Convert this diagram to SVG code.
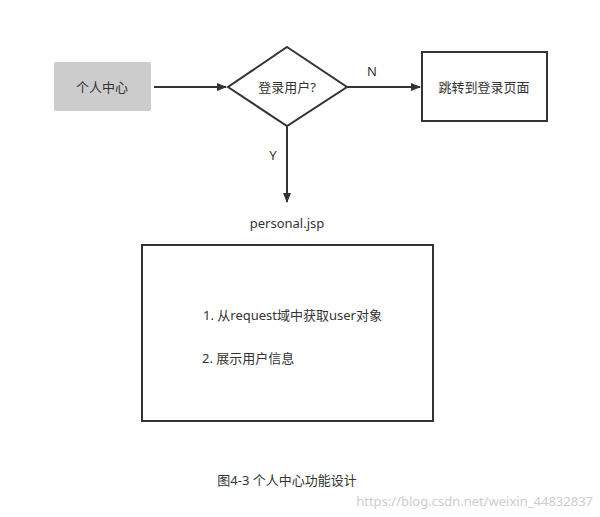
<svg xmlns="http://www.w3.org/2000/svg" width="600" height="517" viewBox="0 0 600 517">
<style>
text{font-family:"Noto Sans","Noto Sans CJK SC",sans-serif;font-size:13px;fill:#333}
.s{fill:#fff;stroke:#333;stroke-width:2}
.c{stroke:#333;stroke-width:2;fill:none}
</style>
<defs><marker id="a" markerWidth="10" markerHeight="10" refX="9" refY="5" orient="auto" markerUnits="userSpaceOnUse"><path d="M0,1L10,5L0,9Z" fill="#333"/></marker></defs>
<rect width="600" height="517" fill="#fff"/>
<g id="connectors">
<line class="c" x1="154" y1="87" x2="226" y2="87" marker-end="url(#a)"/>
<line class="c" x1="347" y1="87" x2="420" y2="87" marker-end="url(#a)"/>
<line class="c" x1="287" y1="126" x2="287" y2="202" marker-end="url(#a)"/>
<text x="372" y="76" text-anchor="middle">N</text>
<text x="273" y="160" text-anchor="middle">Y</text>
</g>
<g id="center"><rect x="54" y="62" width="97" height="49" rx="2" fill="#ccc"/><text x="102" y="92" text-anchor="middle">个人中心</text></g>
<g id="decision"><path class="s" d="M287,47L347,87L287,126L228,87Z"/><text x="287" y="92" text-anchor="middle">登录用户?</text></g>
<g id="redirect"><rect class="s" x="422" y="52" width="125" height="69"/><text x="484" y="92" text-anchor="middle">跳转到登录页面</text></g>
<text x="287" y="228" text-anchor="middle" font-size="14">personal.jsp</text>
<g id="personal"><rect class="s" x="142" y="245" width="291" height="176"/>
<text x="203" y="320">1. 从request域中获取user对象</text>
<text x="202" y="363">2. 展示用户信息</text></g>
<text x="287" y="485" text-anchor="middle" font-size="12">图4-3 个人中心功能设计</text>
<text x="593" y="506" text-anchor="end" font-size="12" style="fill:#ccc">https://blog.csdn.net/weixin_44832837</text>
</svg>
